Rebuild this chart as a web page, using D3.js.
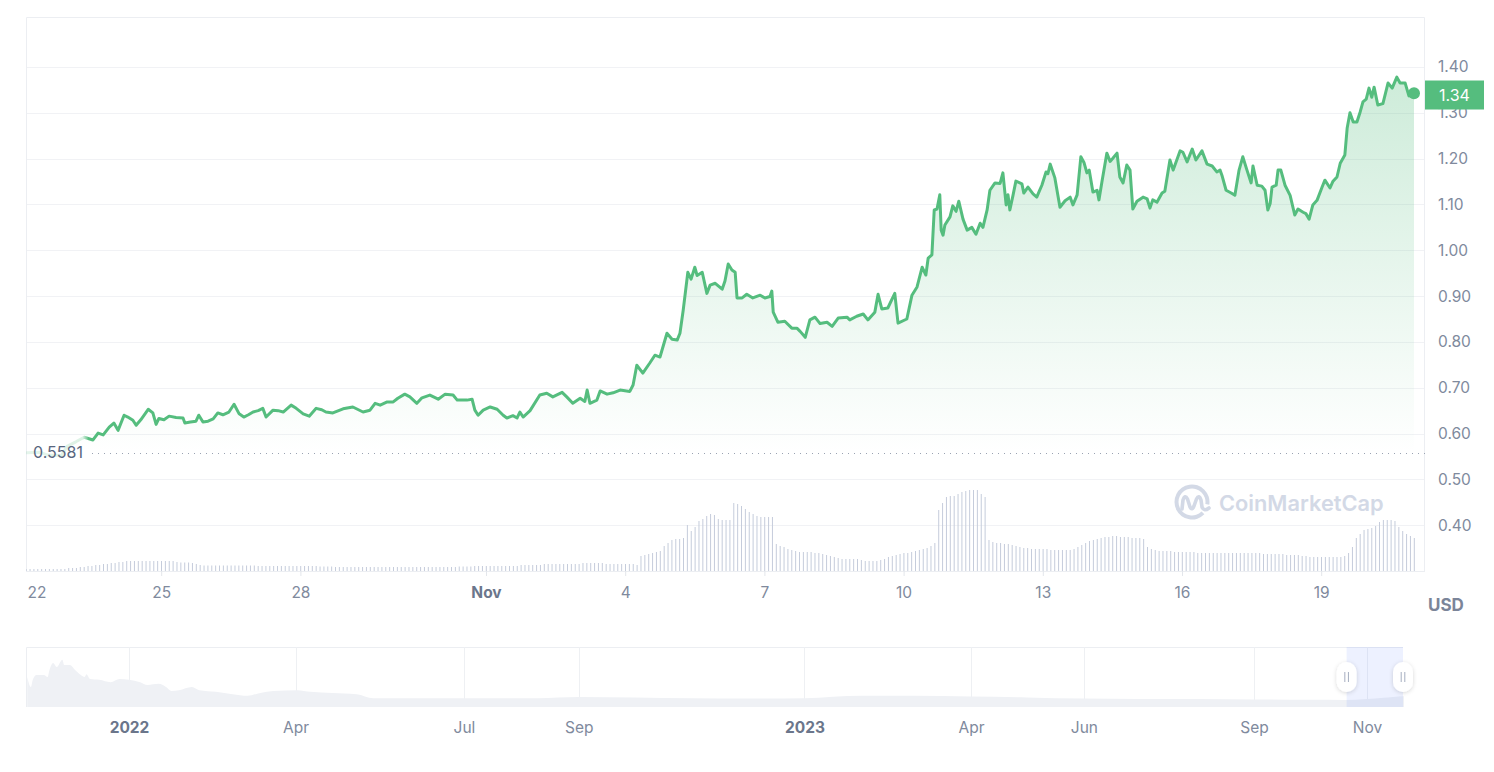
<!DOCTYPE html>
<html><head><meta charset="utf-8">
<script src="https://cdn.jsdelivr.net/npm/d3@7"></script>
<style>
html,body{margin:0;padding:0;background:#fff;}
svg{display:block;font-family:Inter,"Noto Sans",sans-serif;}
</style></head><body>
<svg id="chart" width="1494" height="772"></svg>
<script>
// ---------------- DATA ----------------
const startPrice = 0.5581;
const lastPrice = 1.34;
const periodStart = "2023-10-22";   // day 0 of the price series
const periodEnd = "2023-11-21";
// time of each price point, in days since 22 Oct 2023
const priceDays = [0.09,0.40,0.55,0.85,0.97,1.16,1.34,1.53,1.64,1.75,1.88,1.98,2.07,2.20,2.28,2.39,2.46,2.56,2.72,2.82,2.89,2.95,3.06,3.17,3.32,3.47,3.51,3.63,3.75,3.81,3.90,4.01,4.12,4.22,4.33,4.46,4.57,4.68,4.78,4.88,4.98,5.09,5.19,5.26,5.41,5.52,5.63,5.80,5.91,6.06,6.19,6.34,6.46,6.55,6.70,6.92,7.13,7.35,7.50,7.61,7.72,7.87,8.00,8.10,8.25,8.36,8.51,8.62,8.79,8.97,9.12,9.29,9.38,9.59,9.70,9.76,9.83,9.94,10.09,10.24,10.37,10.45,10.58,10.67,10.73,10.80,10.95,11.16,11.31,11.44,11.64,11.74,11.87,12.03,12.13,12.18,12.24,12.39,12.46,12.61,12.74,12.89,13.10,13.17,13.25,13.38,13.53,13.64,13.75,13.90,14.01,14.12,14.18,14.25,14.35,14.42,14.50,14.55,14.66,14.76,14.83,14.94,15.09,15.15,15.22,15.30,15.37,15.41,15.52,15.62,15.75,15.91,16.01,16.12,16.16,16.19,16.29,16.44,16.59,16.70,16.77,16.88,16.98,17.09,17.20,17.35,17.46,17.59,17.78,17.84,17.99,18.13,18.23,18.38,18.45,18.53,18.66,18.81,18.88,19.07,19.18,19.29,19.40,19.48,19.53,19.61,19.66,19.72,19.78,19.81,19.85,19.89,20.00,20.06,20.13,20.19,20.28,20.37,20.47,20.56,20.65,20.71,20.80,20.86,20.97,21.08,21.14,21.21,21.25,21.29,21.36,21.42,21.55,21.59,21.68,21.79,21.87,21.92,21.98,22.07,22.11,22.16,22.26,22.37,22.48,22.59,22.65,22.74,22.82,22.89,22.95,23.00,23.08,23.17,23.21,23.28,23.38,23.45,23.51,23.60,23.66,23.73,23.81,23.88,23.94,24.03,24.16,24.25,24.31,24.37,24.46,24.57,24.63,24.74,24.81,24.96,25.02,25.11,25.22,25.30,25.43,25.54,25.65,25.75,25.82,25.86,25.95,26.06,26.14,26.23,26.31,26.40,26.49,26.53,26.62,26.72,26.79,26.85,26.90,26.94,27.03,27.07,27.13,27.22,27.33,27.43,27.50,27.61,27.67,27.74,27.82,27.91,28.02,28.08,28.19,28.25,28.34,28.41,28.51,28.56,28.62,28.69,28.77,28.84,28.90,28.97,29.03,29.09,29.14,29.22,29.33,29.44,29.53,29.63,29.70,29.81,29.89,29.96,30.00];
const priceValues = [0.558,0.559,0.553,0.552,0.572,0.582,0.592,0.586,0.601,0.597,0.614,0.623,0.607,0.640,0.636,0.629,0.618,0.630,0.653,0.645,0.620,0.633,0.630,0.638,0.635,0.634,0.623,0.625,0.627,0.640,0.625,0.627,0.632,0.645,0.641,0.647,0.664,0.643,0.636,0.641,0.647,0.650,0.655,0.636,0.651,0.650,0.647,0.662,0.655,0.643,0.638,0.655,0.652,0.647,0.645,0.654,0.658,0.647,0.651,0.666,0.662,0.669,0.669,0.677,0.686,0.680,0.666,0.678,0.684,0.675,0.686,0.684,0.673,0.673,0.675,0.651,0.640,0.651,0.658,0.653,0.640,0.634,0.639,0.634,0.647,0.636,0.650,0.684,0.688,0.680,0.690,0.680,0.666,0.677,0.670,0.695,0.666,0.673,0.693,0.686,0.689,0.695,0.692,0.706,0.749,0.732,0.754,0.771,0.767,0.819,0.806,0.804,0.819,0.869,0.952,0.937,0.963,0.945,0.952,0.906,0.924,0.928,0.915,0.933,0.970,0.957,0.952,0.896,0.896,0.904,0.896,0.902,0.896,0.899,0.911,0.865,0.843,0.845,0.830,0.830,0.823,0.810,0.848,0.854,0.840,0.843,0.834,0.852,0.854,0.848,0.856,0.861,0.848,0.865,0.904,0.872,0.874,0.906,0.841,0.850,0.902,0.920,0.963,0.946,0.983,0.990,1.088,1.090,1.121,1.044,1.033,1.055,1.073,1.097,1.085,1.107,1.068,1.044,1.050,1.035,1.059,1.050,1.088,1.131,1.147,1.146,1.169,1.099,1.121,1.088,1.121,1.151,1.145,1.125,1.138,1.123,1.116,1.128,1.142,1.171,1.167,1.188,1.158,1.094,1.108,1.116,1.099,1.121,1.204,1.191,1.169,1.175,1.127,1.131,1.110,1.153,1.212,1.194,1.201,1.212,1.160,1.147,1.186,1.175,1.090,1.107,1.116,1.112,1.092,1.110,1.105,1.125,1.129,1.197,1.175,1.217,1.214,1.193,1.221,1.197,1.217,1.188,1.184,1.171,1.175,1.164,1.131,1.125,1.120,1.175,1.204,1.175,1.147,1.184,1.142,1.140,1.131,1.088,1.102,1.138,1.142,1.175,1.175,1.142,1.120,1.077,1.090,1.083,1.080,1.068,1.099,1.109,1.138,1.153,1.136,1.150,1.160,1.190,1.208,1.267,1.300,1.280,1.280,1.302,1.324,1.330,1.354,1.334,1.356,1.317,1.320,1.365,1.354,1.378,1.365,1.365,1.337,1.340,1.343];
// volume, millions USD, one bar every 2 hours starting at volumeStartDay
const volumeStartDay = 0.09;
const volumeStepHours = 2;
const volumeValues = [
2,2,2,2,2,2,2,2,2,2,2,3,
3,3,4,4,5,5,6,6,7,7,8,8,
9,9,10,10,10,10,10,10,10,10,10,10,
10,10,10,9,8.5,8.5,8.5,8,7,6,5.5,5.5,
5.5,5.5,5.5,5.5,5.5,5.5,5.5,5.5,5.5,5.5,5.5,5.5,
5,5,5,5,5,5,5,5,5,5,5,5,
5,5,5,5,4.5,4.5,4.5,4.5,4,4,4,4,
4,4,4,4,4,4,4,4,4,4,4,4,
4,4,4,4,4,4,4,4,4,4,4,4,
4,4,4,4,4.5,4.5,4.5,4.5,5,5,5,5,
5,5,5,5,5,5,5,5,6,6,6,6,
6,6,7,7,7,7,7,7,7,7,7,7,
8,8,8,8,8,8,7,7,7,7,7,7,
7,7,6,15,16,17,18,19,20,25,28,31,
32,32,33,46,40,44,50,52,55,57,56,52,
51,51,51,68,67,65,62,59,57,55,54,54,
54,54,27,25,24,22,21,20,19,19,19,19,
18,18,17,16,15,14,13,12,12,12,12,12,
11,10,10,10,10,11,12,14,15,16,17,18,
18,19,20,21,22,23,25,28,61,68,74,75,
75,77,79,80,81,81,81,77,74,31,29,28,
28,27,27,26,25,24,23,23,22,22,22,22,
22,21,21,21,21,21,21,22,24,26,28,30,
31,32,33,34,34,35,35,34,34,34,33,33,
33,32,24,22,21,20,20,20,20,19,19,19,
19,19,19,18,18,18,18,18,18,18,18,18,
18,18,18,18,18,18,18,18,17,17,17,17,
17,17,16,16,16,16,15,15,14,14,14,14,
14,14,14,14,14,15,18,24,33,37,41,42,
43,45,49,51,51,51,50,44,40,37,35,33];
const xTickDates = ["2023-10-22","2023-10-25","2023-10-28","2023-11-01","2023-11-04","2023-11-07","2023-11-10","2023-11-13","2023-11-16","2023-11-19"];
const xTickLabels = ["22","25","28","Nov","4","7","10","13","16","19"];
const yTicks = [0.40,0.50,0.60,0.70,0.80,0.90,1.00,1.10,1.20,1.30,1.40];
const currency = "USD";
// overview (navigator) history
const navDates = ["2021-11-07","2021-11-09","2021-11-10","2021-11-12","2021-11-16","2021-11-18","2021-11-19","2021-11-21","2021-11-23","2021-11-26","2021-11-27","2021-11-30","2021-12-03","2021-12-06","2021-12-08","2021-12-09","2021-12-11","2021-12-16","2021-12-22","2021-12-27","2022-01-01","2022-01-07","2022-01-11","2022-01-17","2022-01-21","2022-01-24","2022-01-28","2022-02-04","2022-02-08","2022-02-17","2022-02-26","2022-03-06","2022-03-13","2022-03-20","2022-04-02","2022-04-09","2022-04-21","2022-05-04","2022-05-13","2022-05-27","2022-06-14","2022-07-02","2022-07-20","2022-08-10","2022-09-01","2022-10-01","2022-11-01","2022-12-01","2023-01-01","2023-02-01","2023-03-01","2023-04-01","2023-05-01","2023-06-01","2023-07-01","2023-08-01","2023-09-01","2023-10-01","2023-10-20","2023-11-01","2023-11-10","2023-11-15","2023-11-21"];
const navValues = [3.75,2.5,3.4,4.0,4.0,3.75,4.6,5.5,5.0,5.9,5.25,5.25,4.6,4.0,3.75,4.1,3.5,3.4,3.1,3.5,3.4,3.1,2.75,2.9,2.5,2.0,2.1,2.5,2.1,1.9,1.6,1.4,1.75,2.0,2.1,1.9,1.75,1.6,1.1,1.1,1.1,1.1,1.1,1.1,1.25,1.2,1.1,1.05,1.1,1.4,1.4,1.3,1.2,1.05,1.0,1.0,0.95,0.9,0.88,1.0,1.15,1.25,1.34];
const navTickDates = ["2022-01-01","2022-04-01","2022-07-01","2022-09-01","2023-01-01","2023-04-01","2023-06-01","2023-09-01","2023-11-01"];
const navTickLabels = ["2022","Apr","Jul","Sep","2023","Apr","Jun","Sep","Nov"];
const navSelection = ["2023-10-21","2023-11-21"];

// ---------------- CHART ----------------
const W = 1494, H = 772;
const L = 26, R = 1425, T = 17, B = 571;
const GREEN = "#55bd7e";
const svg = d3.select("#chart");
const parse = s => new Date(s + "T00:00:00Z");
const t0 = parse(periodStart).getTime();
const dayToDate = d => new Date(t0 + d * 864e5);

const x = d3.scaleUtc().domain([parse(periodStart), parse(periodEnd)]).range([22, 1414]);
const y = d3.scaleLinear().domain([0.3, 1.40 + 50/458]).range([B, T]);
const yVol = d3.scaleLinear().domain([0, 100]).range([B, B - 100]);

const defs = svg.append("defs");
const ag = defs.append("linearGradient").attr("id","areaGrad").attr("gradientUnits","userSpaceOnUse")
  .attr("x1",0).attr("x2",0).attr("y1",y(1.40)).attr("y2",y(startPrice));
ag.append("stop").attr("offset",0).attr("stop-color",GREEN).attr("stop-opacity",0.30);
ag.append("stop").attr("offset",1).attr("stop-color",GREEN).attr("stop-opacity",0.0);
const lg = defs.append("linearGradient").attr("id","lineGrad").attr("gradientUnits","userSpaceOnUse")
  .attr("x1",L).attr("x2",92).attr("y1",0).attr("y2",0);
lg.append("stop").attr("offset",0).attr("stop-color",GREEN).attr("stop-opacity",0.15);
lg.append("stop").attr("offset",0.86).attr("stop-color",GREEN).attr("stop-opacity",0.2);
lg.append("stop").attr("offset",0.95).attr("stop-color",GREEN).attr("stop-opacity",1);
lg.append("stop").attr("offset",1).attr("stop-color",GREEN).attr("stop-opacity",1);
defs.append("clipPath").attr("id","plotClip").append("rect").attr("x",L).attr("y",T).attr("width",R-L).attr("height",B-T);
const sh = defs.append("filter").attr("id","shadow").attr("x","-50%").attr("y","-50%").attr("width","200%").attr("height","200%");
sh.append("feDropShadow").attr("dx",0).attr("dy",1).attr("stdDeviation",2).attr("flood-color","#000").attr("flood-opacity",0.16);

// frame & grid
svg.append("g").selectAll("line").data(yTicks).join("line")
  .attr("x1",L).attr("x2",R).attr("y1",d=>Math.round(y(d))+0.5).attr("y2",d=>Math.round(y(d))+0.5)
  .attr("stroke","#f1f2f5").attr("stroke-width",1);
svg.append("path").attr("d",`M${L+0.5},${B}V${T+0.5}H${R-0.5}V${B}`).attr("fill","none").attr("stroke","#eceef2");
svg.append("line").attr("x1",L).attr("x2",R).attr("y1",B+0.5).attr("y2",B+0.5).attr("stroke","#eceef2");

// watermark
const wm = svg.append("g").attr("fill","none").attr("stroke","#d3d9e6");
const arc = d3.arc().innerRadius(13.5).outerRadius(17.5).startAngle(Math.PI*0.75).endAngle(Math.PI*2.55);
wm.append("path").attr("d",arc()).attr("transform","translate(1192,502)").attr("fill","#d3d9e6").attr("stroke","none");
wm.append("path").attr("d","M1182,509 L1183,500 Q1185,494 1187.5,499 L1190,507 Q1192,511 1194,506 L1196.5,499 Q1199,494 1201,500 L1202,507 Q1204,512 1209,508")
  .attr("stroke-width",3.6).attr("stroke-linecap","round").attr("stroke-linejoin","round");
svg.append("text").attr("x",1219).attr("y",511).attr("font-size",21.8).attr("font-weight",600)
  .attr("fill","#d3d9e6").text("CoinMarketCap");

const plot = svg.append("g").attr("clip-path","url(#plotClip)");

// volume bars
plot.append("g").selectAll("rect").data(volumeValues).join("rect")
  .attr("x",(v,i)=>x(dayToDate(volumeStartDay + i*volumeStepHours/24)) - 0.5)
  .attr("width",1)
  .attr("y",v=>yVol(v)).attr("height",v=>B - yVol(v))
  .attr("fill","#c5ccdb");

const pts = priceDays.map((d,i)=>({t:dayToDate(d), v:priceValues[i]}));
// area
plot.append("path").datum(pts)
  .attr("d", d3.area().x(d=>x(d.t)).y0(y(startPrice)).y1(d=>y(d.v)))
  .attr("fill","url(#areaGrad)");
// baseline (open price) dotted line
svg.append("line").attr("x1",92).attr("x2",R).attr("y1",Math.round(y(startPrice))+0.5).attr("y2",Math.round(y(startPrice))+0.5)
  .attr("stroke","#9aa3b2").attr("stroke-width",1).attr("stroke-dasharray","1,5");
// price line
plot.append("path").datum(pts)
  .attr("d", d3.line().x(d=>x(d.t)).y(d=>y(d.v)))
  .attr("fill","none").attr("stroke","url(#lineGrad)").attr("stroke-width",3)
  .attr("stroke-linejoin","round").attr("stroke-linecap","round");
// end dot
const last = pts[pts.length-1];
svg.append("circle").attr("cx",x(last.t)).attr("cy",y(last.v)).attr("r",6).attr("fill",GREEN);

// open price label
svg.append("text").attr("x",33).attr("y",y(startPrice)).attr("dy","0.35em")
  .attr("font-size",16).attr("fill","#58667e").text(d3.format(".4f")(startPrice));

// y axis
const yAx = svg.append("g").attr("transform",`translate(${R},0)`)
  .call(d3.axisRight(y).tickValues(yTicks).tickFormat(d3.format(".2f")).tickSize(0).tickPadding(13));
yAx.select(".domain").remove();
yAx.selectAll("text").attr("font-size",15.5).attr("font-family","Inter,'Noto Sans',sans-serif").attr("fill","#808a9d");

// current price tag
svg.append("rect").attr("x",R).attr("y",y(lastPrice)-14).attr("width",59).attr("height",29).attr("fill",GREEN);
svg.append("text").attr("x",R+29.5).attr("y",y(lastPrice)+0.5).attr("dy","0.35em").attr("text-anchor","middle")
  .attr("font-size",16).attr("fill","#fff").text(d3.format(".2f")(lastPrice));

// x axis
const xAx = svg.append("g").attr("transform",`translate(0,${B})`)
  .call(d3.axisBottom(x).tickValues(xTickDates.map(parse)).tickFormat((d,i)=>xTickLabels[i]).tickSize(5).tickPadding(11));
xAx.select(".domain").remove();
xAx.selectAll(".tick line").attr("stroke","#e3e6eb");
xAx.selectAll("text").attr("font-size",15.5).attr("font-family","Inter,'Noto Sans',sans-serif").attr("fill","#808a9d");
xAx.selectAll(".tick").filter((d,i)=>xTickLabels[i]==="Nov").select("text").attr("font-weight",700).attr("fill","#6b768b");
const firstTick = xAx.selectAll(".tick").filter((d,i)=>i===0);
firstTick.select("line").remove();
firstTick.select("text").attr("text-anchor","start").attr("x",5);

svg.append("text").attr("x",1428).attr("y",605).attr("dy","0.35em").attr("font-size",17).attr("font-weight",700)
  .attr("fill","#7b8599").text(currency);

// ---------------- NAVIGATOR ----------------
const NT = 647, NB = 707, NL = 26, NR = 1403;
const nx = d3.scaleUtc().domain([parse("2022-01-01"), parse("2023-11-21")]).range([129, 1404]);
const ny = d3.scaleLinear().domain([0, 7]).range([NB, NB - 56]);
const nav = svg.append("g");
nav.append("path").attr("d",`M${NL+0.5},${NB}V${NT+0.5}H${NR}`).attr("fill","none").attr("stroke","#eceef2");
nav.selectAll("line.g").data(navTickDates).join("line").attr("class","g")
  .attr("x1",d=>Math.round(nx(parse(d)))+0.5).attr("x2",d=>Math.round(nx(parse(d)))+0.5)
  .attr("y1",NT).attr("y2",NB).attr("stroke","#eef0f3");
const navPts = navDates.map((d,i)=>({t:parse(d), v:navValues[i]}));
nav.append("path").datum(navPts)
  .attr("d", d3.area().x(d=>Math.max(NL+1,nx(d.t))).y0(NB).y1(d=>ny(d.v)).curve(d3.curveMonotoneX))
  .attr("fill","#eff1f5");
const s0 = nx(parse(navSelection[0])), s1 = Math.min(NR, nx(parse(navSelection[1])));
nav.append("rect").attr("x",s0).attr("y",NT).attr("width",s1-s0).attr("height",NB-NT)
  .attr("fill","#3861fb").attr("opacity",0.09);
[s0, s1].forEach(hx=>{
  const h = nav.append("g").attr("transform",`translate(${hx},${(NT+NB)/2})`);
  h.append("rect").attr("x",-10).attr("y",-15).attr("width",20).attr("height",30).attr("rx",10)
    .attr("fill","#fff").attr("filter","url(#shadow)");
  [-1.8,1.8].forEach(dx=>h.append("line").attr("x1",dx).attr("x2",dx).attr("y1",-5).attr("y2",5)
    .attr("stroke","#a6aec0").attr("stroke-width",1));
});
const nAx = svg.append("g").attr("transform",`translate(0,${NB})`)
  .call(d3.axisBottom(nx).tickValues(navTickDates.map(parse)).tickFormat((d,i)=>navTickLabels[i]).tickSize(0).tickPadding(15));
nAx.select(".domain").remove();
nAx.selectAll("text").attr("font-size",15.5).attr("font-family","Inter,'Noto Sans',sans-serif").attr("fill","#808a9d");
nAx.selectAll(".tick").filter((d,i)=>/^\d{4}$/.test(navTickLabels[i])).select("text")
  .attr("font-weight",700).attr("fill","#6b768b");
</script>
</body></html>
